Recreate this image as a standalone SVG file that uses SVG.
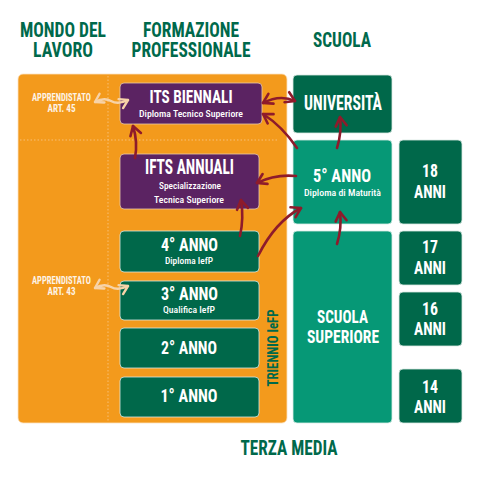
<svg xmlns="http://www.w3.org/2000/svg" width="480" height="480" viewBox="0 0 480 480">
<defs>
<style>
text{font-family:"Roboto Condensed","Liberation Sans Narrow",Roboto,"Liberation Sans",sans-serif;text-anchor:middle;}
.h{fill:#00694b;font-size:20px;font-weight:700;}
.t{fill:#ffffff;font-weight:700;}
.s{fill:#ffffff;font-weight:500;font-size:9.5px;}
.ap{fill:#fdf3e6;font-weight:700;font-size:10.5px;}
.pur{fill:#5b2362;stroke:#e9c9a8;stroke-width:0.8;}
.dg{fill:#00684a;stroke:#d9e8e2;stroke-width:0.8;}
.tl{fill:#069876;stroke:#d9ece6;stroke-width:0.8;}
.arr{fill:none;stroke:#8e1b2b;stroke-width:2.6;stroke-linecap:round;}
.parr{fill:none;stroke:#f7d3a8;stroke-width:2.4;stroke-linecap:round;}
.dot{stroke:#f9c98e;stroke-width:0.8;stroke-dasharray:1.5 2;}
</style>
<marker id="ah" markerWidth="16" markerHeight="16" refX="12" refY="8" orient="auto-start-reverse" markerUnits="userSpaceOnUse">
<path d="M3,2.5 L12,8 L3,13.5" fill="none" stroke="#8e1b2b" stroke-width="2.6" stroke-linecap="round" stroke-linejoin="round"/>
</marker>
<marker id="ph" markerWidth="16" markerHeight="16" refX="12" refY="8" orient="auto-start-reverse" markerUnits="userSpaceOnUse">
<path d="M4,3 L12,8 L4,13" fill="none" stroke="#f7d3a8" stroke-width="2.4" stroke-linecap="round" stroke-linejoin="round"/>
</marker>
</defs>
<rect width="480" height="480" fill="#ffffff"/>

<g id="headers">
<text class="h" x="63" y="37" textLength="86" lengthAdjust="spacingAndGlyphs">MONDO DEL</text>
<text class="h" x="63" y="57" textLength="60" lengthAdjust="spacingAndGlyphs">LAVORO</text>
<text class="h" x="191" y="37" textLength="96" lengthAdjust="spacingAndGlyphs">FORMAZIONE</text>
<text class="h" x="191" y="57" textLength="119" lengthAdjust="spacingAndGlyphs">PROFESSIONALE</text>
<text class="h" x="342" y="47" textLength="58" lengthAdjust="spacingAndGlyphs">SCUOLA</text>
<text class="h" x="289" y="455" textLength="97" lengthAdjust="spacingAndGlyphs">TERZA MEDIA</text>
</g>

<g id="panel">
<rect x="18" y="74" width="269" height="349" rx="5" fill="#f39a1c" stroke="#fbe2c2" stroke-width="0.8"/>
<line class="dot" x1="108" y1="76" x2="108" y2="421"/>
<line class="dot" x1="20" y1="140" x2="278" y2="140"/>
<text class="t" transform="translate(278,348) rotate(-90)" x="0" y="0" font-size="14" style="fill:#00694b" textLength="77" lengthAdjust="spacingAndGlyphs">TRIENNIO IeFP</text>
</g>

<g id="apprendistato45">
<text class="ap" x="61.5" y="101" textLength="59" lengthAdjust="spacingAndGlyphs">APPRENDISTATO</text>
<text class="ap" x="61.5" y="112" textLength="28" lengthAdjust="spacingAndGlyphs">ART. 45</text>
</g>
<g id="apprendistato43">
<text class="ap" x="61.5" y="284" textLength="59" lengthAdjust="spacingAndGlyphs">APPRENDISTATO</text>
<text class="ap" x="61.5" y="295" textLength="28" lengthAdjust="spacingAndGlyphs">ART. 43</text>
</g>

<g id="its">
<rect class="pur" x="120" y="83" width="142" height="41" rx="4"/>
<text class="t" x="191" y="103" font-size="17.5" textLength="83" lengthAdjust="spacingAndGlyphs">ITS BIENNALI</text>
<text class="s" x="191" y="117" textLength="104" lengthAdjust="spacingAndGlyphs">Diploma Tecnico Superiore</text>
</g>
<g id="ifts">
<rect class="pur" x="120" y="154" width="139" height="55" rx="4"/>
<text class="t" x="189.5" y="174" font-size="19.5" textLength="89" lengthAdjust="spacingAndGlyphs">IFTS ANNUALI</text>
<text class="s" x="190" y="189" textLength="62" lengthAdjust="spacingAndGlyphs">Specializzazione</text>
<text class="s" x="189" y="203" textLength="70" lengthAdjust="spacingAndGlyphs">Tecnica Superiore</text>
</g>
<g id="anno4">
<rect class="dg" x="120" y="231" width="139" height="41" rx="4"/>
<text class="t" x="189.5" y="251" font-size="19" textLength="57" lengthAdjust="spacingAndGlyphs">4° ANNO</text>
<text class="s" x="189" y="264" textLength="48" lengthAdjust="spacingAndGlyphs">Diploma IefP</text>
</g>
<g id="anno3">
<rect class="dg" x="120" y="281" width="139" height="39" rx="4"/>
<text class="t" x="189.5" y="300" font-size="19" textLength="57" lengthAdjust="spacingAndGlyphs">3° ANNO</text>
<text class="s" x="189" y="313" textLength="52" lengthAdjust="spacingAndGlyphs">Qualifica IefP</text>
</g>
<g id="anno2">
<rect class="dg" x="120" y="328" width="139" height="40" rx="4"/>
<text class="t" x="189" y="354" font-size="19" textLength="56" lengthAdjust="spacingAndGlyphs">2° ANNO</text>
</g>
<g id="anno1">
<rect class="dg" x="120" y="377" width="139" height="40" rx="4"/>
<text class="t" x="189" y="402" font-size="19" textLength="57" lengthAdjust="spacingAndGlyphs">1° ANNO</text>
</g>

<g id="universita">
<rect class="dg" x="293" y="75" width="99" height="58" rx="4"/>
<text class="t" x="343" y="110" font-size="19.5" textLength="78" lengthAdjust="spacingAndGlyphs">UNIVERSITÀ</text>
</g>
<g id="anno5">
<rect class="tl" x="293" y="140" width="99" height="84" rx="4"/>
<text class="t" x="342" y="182" font-size="19" textLength="58" lengthAdjust="spacingAndGlyphs">5° ANNO</text>
<text class="s" x="342.5" y="196" textLength="77" lengthAdjust="spacingAndGlyphs">Diploma di Maturità</text>
</g>
<g id="scuolasuperiore">
<rect class="tl" x="293" y="231" width="99" height="192" rx="4"/>
<text class="t" x="342.5" y="323" font-size="19" textLength="51" lengthAdjust="spacingAndGlyphs">SCUOLA</text>
<text class="t" x="343" y="343" font-size="19" textLength="72" lengthAdjust="spacingAndGlyphs">SUPERIORE</text>
</g>
<g id="anni18">
<rect class="dg" x="399" y="140" width="63" height="84" rx="4"/>
<text class="t" x="430" y="177" font-size="17.5" textLength="16" lengthAdjust="spacingAndGlyphs">18</text>
<text class="t" x="430" y="198" font-size="18" textLength="32" lengthAdjust="spacingAndGlyphs">ANNI</text>
</g>
<g id="anni17">
<rect class="dg" x="399" y="231" width="63" height="54" rx="4"/>
<text class="t" x="430" y="253" font-size="17.5" textLength="16" lengthAdjust="spacingAndGlyphs">17</text>
<text class="t" x="430" y="274" font-size="18" textLength="32" lengthAdjust="spacingAndGlyphs">ANNI</text>
</g>
<g id="anni16">
<rect class="dg" x="399" y="292" width="63" height="54" rx="4"/>
<text class="t" x="430" y="315" font-size="17.5" textLength="16" lengthAdjust="spacingAndGlyphs">16</text>
<text class="t" x="430" y="335" font-size="18" textLength="32" lengthAdjust="spacingAndGlyphs">ANNI</text>
</g>
<g id="anni14">
<rect class="dg" x="399" y="369" width="63" height="54" rx="4"/>
<text class="t" x="430" y="393" font-size="17.5" textLength="16" lengthAdjust="spacingAndGlyphs">14</text>
<text class="t" x="430" y="413" font-size="18" textLength="32" lengthAdjust="spacingAndGlyphs">ANNI</text>
</g>

<g id="connectors">
<path class="parr" d="M95,102 Q104,97 111,101 T128,100" marker-start="url(#ph)" marker-end="url(#ph)"/>
<path class="parr" d="M95,288 Q104,283 111,287 T128,286" marker-start="url(#ph)" marker-end="url(#ph)"/>
<path class="arr" d="M263,103 Q280,94 295,101" marker-start="url(#ah)" marker-end="url(#ah)"/>
<path class="arr" d="M297,148 Q282,126 263,114" marker-end="url(#ah)"/>
<path class="arr" d="M296,176 Q275,174 257,183" marker-end="url(#ah)"/>
<path class="arr" d="M135,158 Q138,142 133,126" marker-end="url(#ah)"/>
<path class="arr" d="M240,236 Q244,218 241,200" marker-end="url(#ah)"/>
<path class="arr" d="M258,256 C268,236 282,218 301,208" marker-end="url(#ah)"/>
<path class="arr" d="M337,244 Q342,228 340,212" marker-end="url(#ah)"/>
<path class="arr" d="M337,148 Q342,132 340,117" marker-end="url(#ah)"/>
</g>
</svg>
